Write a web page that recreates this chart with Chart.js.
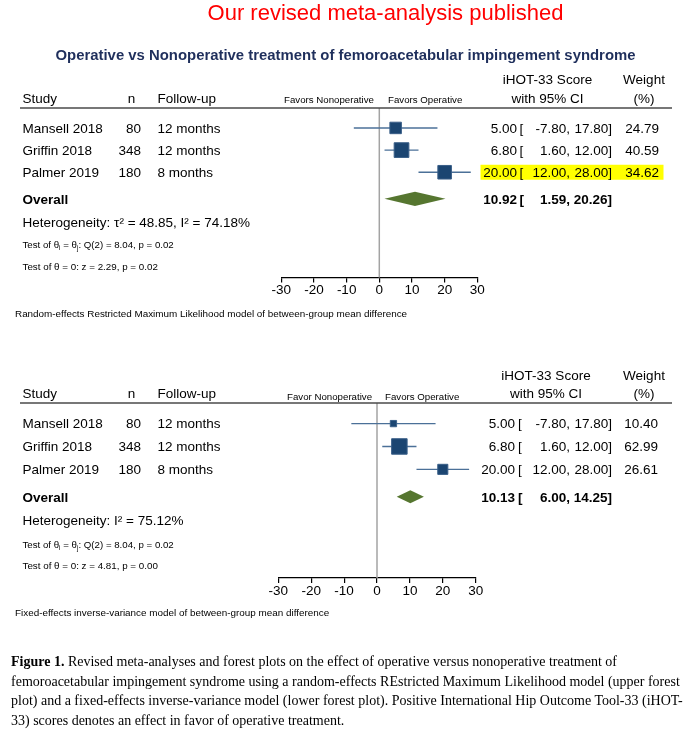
<!DOCTYPE html>
<html>
<head>
<meta charset="utf-8">
<script src="https://cdn.jsdelivr.net/npm/chart.js@4.4.1/dist/chart.umd.min.js"></script>
<style>
  html, body { margin: 0; padding: 0; background: #fff; }
  #page { position: relative; width: 696px; height: 741px; overflow: hidden; }
  canvas { position: absolute; left: 0; top: 0; }
  #redTitle {
    position: absolute; top: 2px; left: 385.5px; transform: translateX(-50%);
    white-space: nowrap; font: 22px/22px "Liberation Sans", Arial, sans-serif; color: #ff0000;
  }
  #blueTitle {
    position: absolute; top: 48px; left: 345.5px; transform: translateX(-50%);
    white-space: nowrap; font: bold 14.9px/15px "Liberation Sans", Arial, sans-serif; color: #1f2f5c;
  }
  #caption {
    position: absolute; top: 652px; left: 11px; white-space: nowrap;
    font: 14px/19.7px "Liberation Serif", "Times New Roman", serif; color: #000;
  }
</style>
</head>
<body>
<div id="page">
  <canvas id="upper" width="696" height="741"></canvas>
  <canvas id="lower" width="696" height="741"></canvas>
  <div id="redTitle">Our revised meta-analysis published</div>
  <div id="blueTitle">Operative vs Nonoperative treatment of femoroacetabular impingement syndrome</div>
  <div id="caption"><b>Figure 1.</b> Revised meta-analyses and forest plots on the effect of operative versus nonoperative treatment of<br>femoroacetabular impingement syndrome using a random-effects REstricted Maximum Likelihood model (upper forest<br>plot) and a fixed-effects inverse-variance model (lower forest plot). Positive International Hip Outcome Tool-33 (iHOT-<br>33) scores denotes an effect in favor of operative treatment.</div>
</div>
<script>
// study data (same three trials in both models)
const studies = ['Mansell 2018', 'Griffin 2018', 'Palmer 2019'];
const sampleSizes = [80, 348, 180];
const followUps = ['12 months', '12 months', '8 months'];
const meanDiffs = [5.00, 6.80, 20.00];
const ciLower = [-7.80, 1.60, 12.00];
const ciUpper = [17.80, 12.00, 28.00];
const remlWeights = [24.79, 40.59, 34.62];
const fixedWeights = [10.40, 62.99, 26.61];
// pooled estimate: [estimate, lower, upper]
const remlOverall = [10.92, 1.59, 20.26];
const fixedOverall = [10.13, 6.00, 14.25];
const xTicks = [-30, -20, -10, 0, 10, 20, 30];

const FONT = '"Liberation Sans", Arial, sans-serif';
const AXIS_H = 20;
const OVERALL_ROW = 4.2;

function put(ctx, str, x, y, size, opts = {}) {
  ctx.font = (opts.bold ? 'bold ' : '') + size + 'px ' + FONT;
  ctx.fillStyle = opts.color || '#000';
  ctx.textAlign = opts.align || 'left';
  ctx.textBaseline = 'alphabetic';
  ctx.fillText(str, x, y + size * 0.36);
  return ctx.measureText(str).width;
}

function ciText(ctx, vals, py, c, bold) {
  put(ctx, vals[0].toFixed(2), c.effRight, py, 13.5, { align: 'right', bold });
  put(ctx, '[', c.bracket, py, 13.5, { bold });
  put(ctx, vals[1].toFixed(2) + ',', c.loRight, py, 13.5, { align: 'right', bold });
  put(ctx, vals[2].toFixed(2) + ']', c.hiRight, py, 13.5, { align: 'right', bold });
}

function forestPlugin(p) {
  return {
    id: 'forest_' + p.canvas,
    beforeDatasetsDraw(chart) {
      const { ctx, chartArea, scales: { x, y } } = chart;
      ctx.save();
      if (p.highlightRow != null) {
        const py = y.getPixelForValue(p.highlightRow + 1);
        ctx.fillStyle = '#ffff00';
        ctx.fillRect(p.cols.hlLeft, py - 7.5, p.cols.hlRight - p.cols.hlLeft, 15);
      }
      // line of no effect
      const x0 = x.getPixelForValue(0);
      ctx.strokeStyle = '#a3a3a3';
      ctx.lineWidth = 1.5;
      ctx.beginPath();
      ctx.moveTo(x0, chartArea.top);
      ctx.lineTo(x0, chartArea.bottom);
      ctx.stroke();
      ctx.restore();
    },
    afterDatasetsDraw(chart) {
      const { ctx, chartArea, scales: { x, y } } = chart;
      const c = p.cols;
      ctx.save();

      // pooled diamond
      const dy = y.getPixelForValue(OVERALL_ROW);
      ctx.fillStyle = '#567630';
      ctx.beginPath();
      ctx.moveTo(x.getPixelForValue(p.overall[1]), dy);
      ctx.lineTo(x.getPixelForValue(p.overall[0]), dy - p.diamondHalf);
      ctx.lineTo(x.getPixelForValue(p.overall[2]), dy);
      ctx.lineTo(x.getPixelForValue(p.overall[0]), dy + p.diamondHalf);
      ctx.closePath();
      ctx.fill();

      // header
      put(ctx, 'Study', 22.5, p.headY2, 13.5);
      put(ctx, 'n', 131.5, p.headY2, 13.5, { align: 'center' });
      put(ctx, 'Follow-up', 157.5, p.headY2, 13.5);
      put(ctx, p.favorLeft, p.favorLeftX, p.favorY, 9.7);
      put(ctx, 'Favors Operative', p.favorRightX, p.favorY, 9.7);
      put(ctx, 'iHOT-33 Score', c.headMid, p.headY1, 13.5, { align: 'center' });
      put(ctx, 'with 95% CI', c.headMid, p.headY2, 13.5, { align: 'center' });
      put(ctx, 'Weight', c.wMid, p.headY1, 13.5, { align: 'center' });
      put(ctx, '(%)', c.wMid, p.headY2, 13.5, { align: 'center' });
      ctx.strokeStyle = '#4a4a4a';
      ctx.lineWidth = 1.5;
      ctx.beginPath();
      ctx.moveTo(20, chartArea.top);
      ctx.lineTo(672, chartArea.top);
      ctx.stroke();

      // study rows
      studies.forEach((s, i) => {
        const py = y.getPixelForValue(i + 1);
        put(ctx, s, 22.5, py, 13.5);
        put(ctx, String(sampleSizes[i]), 141, py, 13.5, { align: 'right' });
        put(ctx, followUps[i], 157.5, py, 13.5);
        ciText(ctx, [meanDiffs[i], ciLower[i], ciUpper[i]], py, c, false);
        put(ctx, p.weights[i].toFixed(2), c.wRight, py, 13.5, { align: 'right' });
      });

      // overall row + stats
      put(ctx, 'Overall', 22.5, dy, 13.5, { bold: true });
      ciText(ctx, p.overall, dy, c, true);
      put(ctx, p.hetText, 22.5, p.hetY, 13.5);

      let tx = 22.5;
      tx += put(ctx, 'Test of θ', tx, p.qTestY, 9.7);
      tx += put(ctx, 'i', tx, p.qTestY + 3, 6.5);
      tx += put(ctx, ' = θ', tx, p.qTestY, 9.7);
      tx += put(ctx, 'j', tx, p.qTestY + 3, 6.5);
      put(ctx, p.qTest, tx, p.qTestY, 9.7);
      put(ctx, p.zTest, 22.5, p.zTestY, 9.8);
      put(ctx, p.note, 15, p.noteY, 9.9);
      ctx.restore();
    }
  };
}

function makeForest(p) {
  const side = w => p.maxSide * Math.sqrt(w / Math.max(...p.weights));
  const ciSets = studies.map((s, i) => ({
    type: 'line',
    label: s + ' CI',
    data: [{ x: ciLower[i], y: i + 1 }, { x: ciUpper[i], y: i + 1 }],
    borderColor: '#4b7098',
    borderWidth: 1.4,
    pointRadius: 0,
    fill: false
  }));
  return new Chart(document.getElementById(p.canvas), {
    type: 'scatter',
    data: {
      datasets: [{
        label: 'Mean difference',
        data: meanDiffs.map((m, i) => ({ x: m, y: i + 1 })),
        pointStyle: 'rect',
        pointRadius: p.weights.map(w => side(w) / Math.SQRT2),
        backgroundColor: '#1b4571',
        borderColor: '#3a5f88',
        borderWidth: 1
      }, ...ciSets]
    },
    options: {
      responsive: false,
      animation: false,
      devicePixelRatio: 1,
      layout: {
        padding: {
          left: p.area.left,
          right: 696 - p.area.right,
          top: p.area.top,
          bottom: 741 - p.area.bottom - AXIS_H
        }
      },
      plugins: { legend: { display: false }, tooltip: { enabled: false } },
      scales: {
        x: {
          type: 'linear', min: -30, max: 30,
          afterBuildTicks: s => { s.ticks = xTicks.map(v => ({ value: v })); },
          afterFit: s => { s.height = AXIS_H; },
          grid: { drawOnChartArea: false, tickLength: 5, color: '#000', lineWidth: 1.2 },
          border: { display: true, color: '#000', width: 1.2 },
          ticks: {
            color: '#000', padding: 0, maxRotation: 0, autoSkip: false,
            font: { family: FONT, size: 13.5 },
            callback: v => String(v)
          }
        },
        y: { type: 'linear', display: false, reverse: true, min: 0.1, max: 7.75 }
      }
    },
    plugins: [forestPlugin(p)]
  });
}

makeForest({
  canvas: 'upper',
  weights: remlWeights,
  overall: remlOverall,
  area: { left: 281.3, right: 477.3, top: 108, bottom: 277.5 },
  maxSide: 14.7, diamondHalf: 7.2,
  highlightRow: 2,
  favorLeft: 'Favors Nonoperative', favorLeftX: 284, favorRightX: 388, favorY: 100,
  headY1: 79.5, headY2: 98.5,
  cols: { effRight: 517, bracket: 519.5, loRight: 570, hiRight: 612, wRight: 659,
          headMid: 547.5, wMid: 644, hlLeft: 480.5, hlRight: 663.5 },
  hetText: 'Heterogeneity: τ² = 48.85, I² = 74.18%', hetY: 222,
  qTest: ': Q(2) = 8.04, p = 0.02', qTestY: 245,
  zTest: 'Test of θ = 0: z = 2.29, p = 0.02', zTestY: 266.5,
  note: 'Random-effects Restricted Maximum Likelihood model of between-group mean difference', noteY: 313
});

makeForest({
  canvas: 'lower',
  weights: fixedWeights,
  overall: fixedOverall,
  area: { left: 278.3, right: 475.7, top: 403, bottom: 578 },
  maxSide: 15.5, diamondHalf: 6.5,
  highlightRow: null,
  favorLeft: 'Favor Nonoperative', favorLeftX: 287, favorRightX: 385, favorY: 397,
  headY1: 375, headY2: 393.5,
  cols: { effRight: 515, bracket: 518, loRight: 570, hiRight: 612, wRight: 658,
          headMid: 546, wMid: 644 },
  hetText: 'Heterogeneity: I² = 75.12%', hetY: 520,
  qTest: ': Q(2) = 8.04, p = 0.02', qTestY: 545,
  zTest: 'Test of θ = 0: z = 4.81, p = 0.00', zTestY: 565.5,
  note: 'Fixed-effects inverse-variance model of between-group mean difference', noteY: 612
});
</script>
</body>
</html>
